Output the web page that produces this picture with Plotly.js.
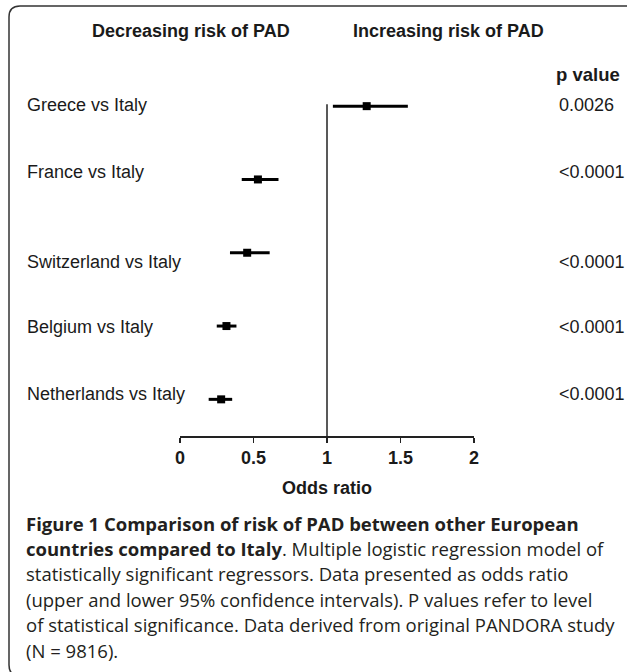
<!DOCTYPE html>
<html>
<head>
<meta charset="utf-8">
<script src="https://cdn.plot.ly/plotly-3.0.1.min.js"></script>
<style>
  html, body { margin: 0; padding: 0; background: #fff; }
  #chart { width: 627px; height: 672px; }
</style>
</head>
<body>
<div id="chart"></div>
<script>
// ---- data ----
const comparisons = ["Greece vs Italy", "France vs Italy", "Switzerland vs Italy", "Belgium vs Italy", "Netherlands vs Italy"];
const oddsRatio   = [1.27, 0.53, 0.457, 0.316, 0.28];
const ciLower     = [1.04, 0.42, 0.34, 0.25, 0.195];
const ciUpper     = [1.55, 0.67, 0.61, 0.384, 0.355];
const pValues     = ["0.0026", "<0.0001", "<0.0001", "<0.0001", "<0.0001"];
const tickVals    = [0, 0.5, 1, 1.5, 2];
const tickText    = ["0", "0.5", "1", "1.5", "2"];
const headers     = ["Decreasing risk of PAD", "Increasing risk of PAD", "p value"];
const xTitle      = "Odds ratio";
const captionLines = [
  "<b>Figure 1 Comparison of risk of PAD between other European</b>",
  "<b>countries compared to Italy</b>. Multiple logistic regression model of",
  "statistically significant regressors. Data presented as odds ratio",
  "(upper and lower 95% confidence intervals). P values refer to level",
  "of statistical significance. Data derived from original PANDORA study",
  "(N = 9816)."
];

// ---- layout geometry ----
const W = 627, H = 672;
const M = {l: 180, r: 153, t: 60, b: 236};
const PW = W - M.l - M.r, PH = H - M.t - M.b;
const px = x => (x - M.l) / PW;          // pixel -> paper x
const py = y => (H - M.b - y) / PH;      // pixel -> paper y

const n = comparisons.length;
const rowPos = comparisons.map((_, i) => n - i);   // 5..1 top to bottom
const labelShift = [1, 7, -9, -1, 5];               // small vertical offsets of row labels (px)

const ink = "#1a1a1a";
const chartFont = "Liberation Sans, Arial, sans-serif";

const trace = {
  type: "scatter",
  mode: "markers",
  x: oddsRatio,
  y: rowPos,
  marker: {symbol: "square", size: 8, color: "#000"},
  error_x: {
    type: "data",
    symmetric: false,
    array: oddsRatio.map((v, i) => ciUpper[i] - v),
    arrayminus: oddsRatio.map((v, i) => v - ciLower[i]),
    width: 0,
    thickness: 3,
    color: "#000"
  },
  hoverinfo: "x+y",
  showlegend: false
};

const annotations = [];
comparisons.forEach((lab, i) => {
  annotations.push({
    text: lab, xref: "paper", yref: "y", x: px(25), y: rowPos[i],
    xanchor: "left", yanchor: "middle", yshift: labelShift[i], showarrow: false,
    font: {family: chartFont, size: 18, color: ink}
  });
  annotations.push({
    text: pValues[i], xref: "paper", yref: "y", x: px(557), y: rowPos[i],
    xanchor: "left", yanchor: "middle", yshift: labelShift[i], showarrow: false,
    font: {family: chartFont, size: 18, color: ink}
  });
});
annotations.push({
  text: headers[0], xref: "paper", yref: "paper", x: px(191), y: py(31),
  xanchor: "center", yanchor: "middle", showarrow: false,
  font: {family: chartFont, size: 18, color: ink, weight: "bold"}
});
annotations.push({
  text: headers[1], xref: "paper", yref: "paper", x: px(448), y: py(31),
  xanchor: "center", yanchor: "middle", showarrow: false,
  font: {family: chartFont, size: 18, color: ink, weight: "bold"}
});
annotations.push({
  text: headers[2], xref: "paper", yref: "paper", x: px(554), y: py(74),
  xanchor: "left", yanchor: "middle", showarrow: false,
  font: {family: chartFont, size: 18.5, color: ink, weight: "bold"}
});
captionLines.forEach((line, i) => {
  annotations.push({
    text: line, xref: "paper", yref: "paper", x: px(24), y: py(523 + i * 25.4),
    xanchor: "left", yanchor: "middle", showarrow: false,
    font: {family: "Open Sans, sans-serif", size: 18.5, color: "#231f20"}
  });
});

const frame = [
  "M", px(640), py(676),
  "L", px(20), py(676),
  "Q", px(9), py(676), px(9), py(665),
  "L", px(9), py(17),
  "Q", px(9), py(6), px(20), py(6),
  "L", px(640), py(6)
].join(" ");

const layout = {
  width: W, height: H,
  margin: M,
  paper_bgcolor: "#fff",
  plot_bgcolor: "#fff",
  showlegend: false,
  xaxis: {
    range: [0, 2],
    tickvals: tickVals,
    ticktext: tickText,
    showgrid: false,
    zeroline: false,
    showline: true,
    linecolor: "#222",
    linewidth: 1.5,
    ticks: "outside",
    ticklen: 5,
    tickwidth: 1.5,
    tickcolor: "#222",
    tickfont: {family: chartFont, size: 18, color: ink, weight: "bold"},
    title: {text: xTitle, font: {family: chartFont, size: 18, color: ink, weight: "bold"}, standoff: 14},
    fixedrange: true
  },
  yaxis: {
    range: [0.5, 0.5 + PH / 73.3],
    visible: false,
    showgrid: false,
    zeroline: false,
    fixedrange: true
  },
  shapes: [
    {type: "line", xref: "x", yref: "y", x0: 1, x1: 1, y0: 0.5, y1: rowPos[0] + 0.025,
     line: {color: "#222", width: 1.5}},
    {type: "path", xref: "paper", yref: "paper", path: frame,
     line: {color: "#333", width: 1.5}}
  ],
  annotations: annotations
};

Plotly.newPlot("chart", [trace], layout, {displayModeBar: false, staticPlot: true});
</script>
</body>
</html>
